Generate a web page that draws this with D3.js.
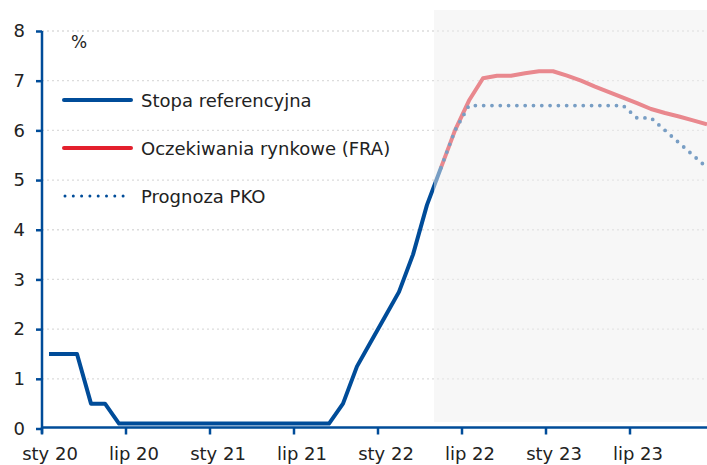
<!DOCTYPE html>
<html>
<head>
<meta charset="utf-8">
<script src="https://cdn.jsdelivr.net/npm/d3@7"></script>
<style>
  body { margin: 0; background: #fff; }
  svg { display: block; font-family: "DejaVu Sans", sans-serif; }
</style>
</head>
<body>
<svg id="chart" width="707" height="465"></svg>
<script>
// monthly, Jan 2020 .. Dec 2023
const months = d3.range(48);
const tickMonths = [0, 6, 12, 18, 24, 30, 36, 42];
const tickLabels = ['sty 20', 'lip 20', 'sty 21', 'lip 21', 'sty 22', 'lip 22', 'sty 23', 'lip 23'];
const yTicks = [0, 1, 2, 3, 4, 5, 6, 7, 8];

// Stopa referencyjna, Jan 2020 .. May 2022
const refRate = [1.5, 1.5, 1.5, 0.5, 0.5, 0.1,
  0.1, 0.1, 0.1, 0.1, 0.1, 0.1,
  0.1, 0.1, 0.1, 0.1, 0.1, 0.1,
  0.1, 0.1, 0.1, 0.5, 1.25, 1.75,
  2.25, 2.75, 3.5, 4.5, 5.25];
// Oczekiwania rynkowe (FRA), May 2022 .. Dec 2023
const fra = [5.25, 6.0, 6.6, 7.05, 7.1, 7.1, 7.15, 7.19, 7.19, 7.1,
  7.0, 6.88, 6.77, 6.66, 6.55, 6.43, 6.35, 6.28, 6.2, 6.12];
// Prognoza PKO, May 2022 .. Dec 2023
const pko = [5.25, 6.0, 6.5, 6.5, 6.5, 6.5, 6.5, 6.5, 6.5, 6.5,
  6.5, 6.5, 6.5, 6.5, 6.25, 6.25, 6.0, 5.75, 5.5, 5.25];
const forecastStart = 28; // May 2022

const blue = '#004c99';
const red = '#e3202d';

const svg = d3.select('#chart');

const x = d3.scaleBand().domain(months).range([42, 42 + 14 * 48]);
const y = d3.scaleLinear().domain([0, 8]).range([428.5, 31]);
const cx = i => x(i) + x.bandwidth() / 2;

// grid
svg.append('g')
  .selectAll('line')
  .data(yTicks.slice(1))
  .enter().append('line')
  .attr('x1', 42).attr('x2', 707)
  .attr('y1', d => y(d)).attr('y2', d => y(d))
  .attr('stroke', '#dcdcdc')
  .attr('stroke-width', 1.3)
  .attr('stroke-dasharray', '2,3');

const line = offset => d3.line()
  .x((d, i) => cx(i + offset))
  .y(d => y(d));

svg.append('path')
  .datum(fra)
  .attr('d', line(forecastStart))
  .attr('fill', 'none')
  .attr('stroke', red)
  .attr('stroke-width', 4)
  .attr('stroke-linejoin', 'round');

svg.append('path')
  .datum(pko)
  .attr('d', line(forecastStart))
  .attr('fill', 'none')
  .attr('stroke', blue)
  .attr('stroke-width', 3.8)
  .attr('stroke-linecap', 'round')
  .attr('stroke-dasharray', '0,8.3');

svg.append('path')
  .datum(refRate)
  .attr('d', line(0))
  .attr('fill', 'none')
  .attr('stroke', blue)
  .attr('stroke-width', 4)
  .attr('stroke-linejoin', 'round');

// forecast shading (translucent, sits over the lines)
svg.append('rect')
  .attr('x', x(forecastStart))
  .attr('y', 10)
  .attr('width', 707 - x(forecastStart))
  .attr('height', 412)
  .attr('fill', 'rgb(239,239,239)')
  .attr('fill-opacity', 0.5);

// axes
const yAxis = svg.append('g')
  .attr('transform', 'translate(42,0)')
  .call(d3.axisLeft(y).tickValues(yTicks).tickSize(6).tickPadding(11).tickFormat(d3.format('d')));
yAxis.select('.domain').attr('d', `M0,${y(8)}V${y(0) + 5}`);

const xAxis = svg.append('g')
  .attr('transform', `translate(0,${y(0) - 1})`)
  .call(d3.axisBottom(x).tickValues(tickMonths).tickSize(7).tickPadding(13)
    .tickFormat((d, i) => tickLabels[i]));
xAxis.select('.domain').attr('d', 'M42,0H707');
xAxis.selectAll('.tick').attr('transform', d => `translate(${x(d)},0)`);
xAxis.selectAll('.tick text').attr('dx', 8);

[yAxis, xAxis].forEach(a => {
  a.select('.domain').attr('stroke', blue).attr('stroke-width', 2.5);
  a.selectAll('.tick line').attr('stroke', blue).attr('stroke-width', 2.5);
  a.selectAll('.tick text').attr('fill', '#222').style('font-size', '18px')
    .style('font-family', '"DejaVu Sans", sans-serif');
});

svg.append('text')
  .attr('x', 71).attr('y', 48)
  .attr('fill', '#222')
  .style('font-size', '17px')
  .text('%');

// legend
const legendItems = [
  { name: 'Stopa referencyjna', color: blue, dash: null },
  { name: 'Oczekiwania rynkowe (FRA)', color: red, dash: null },
  { name: 'Prognoza PKO', color: blue, dash: '0,8.3' }
];
const legend = svg.append('g')
  .selectAll('g')
  .data(legendItems)
  .enter().append('g')
  .attr('transform', (d, i) => `translate(0,${100 + i * 48})`);

legend.append('line')
  .attr('x1', d => d.dash ? 65 : 64).attr('x2', d => d.dash ? 124 : 131)
  .attr('stroke', d => d.color)
  .attr('stroke-width', d => d.dash ? 3 : 4)
  .attr('stroke-linecap', 'round')
  .attr('stroke-dasharray', d => d.dash);

legend.append('text')
  .attr('x', 141).attr('y', 6.5)
  .attr('fill', '#222')
  .style('font-size', '18px')
  .text(d => d.name);
</script>
</body>
</html>
